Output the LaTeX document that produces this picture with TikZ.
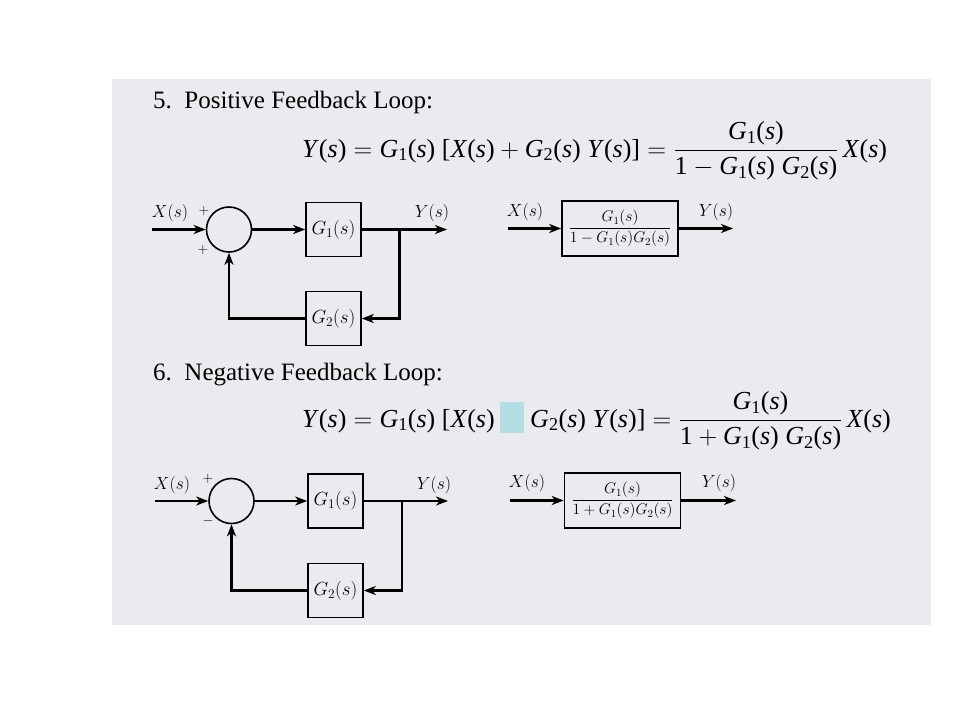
\RequirePackage{fix-cm}
\documentclass[tikz,border=0pt]{standalone}
\usepackage{amsmath}
\usepackage{fontspec}
\newfontfamily\tmfont{Liberation Serif}
\usetikzlibrary{arrows.meta}
\definecolor{pagebg}{RGB}{234,235,238}
\definecolor{maskc}{RGB}{178,221,226}
\newcommand\Fs[1]{\textit{#1}(\textit{s})}
\newcommand\Gs[1]{\textit{G}\textsubscript{#1}(\textit{s})}
\begin{document}
\begin{tikzpicture}[x=1pt,y=-1pt,
  blk/.style={draw, line width=1.6pt, minimum width=55pt, minimum height=54pt, inner sep=0pt, font=\fontsize{19}{21}\selectfont},
  tfblk/.style={blk, minimum width=116pt, minimum height=55pt, font=\fontsize{15.5}{17}\selectfont},
  sumc/.style={draw, circle, line width=1.6pt, minimum size=45pt, inner sep=0pt},
  lab/.style={font=\fontsize{17.5}{20}\selectfont, inner sep=0pt},
  sig/.style={line width=2.1pt, -{Stealth[length=12pt,width=9pt,inset=3.5pt]}},
  sgn/.style={font=\fontsize{14}{16}\selectfont, inner sep=0pt},
  ttl/.style={font=\tmfont\fontsize{25}{28}\selectfont, anchor=base west, inner sep=0pt},
  eqn/.style={font=\tmfont\fontsize{26}{30}\selectfont, anchor=base west, inner sep=0pt}
]
\fill[white] (0,0) rectangle (960,720);
\fill[pagebg] (112,79) rectangle (931,625);
\useasboundingbox (0,0) rectangle (960,720);

% ---------- 5. Positive feedback ----------
\node[ttl] (t5) at (153,108) {5.\ \ Positive Feedback Loop:};
\node[eqn] (e5) at (302,157) {$\text{\Fs{Y}} = \text{\Gs{1} [\Fs{X}} + \text{\Gs{2} \Fs{Y}]} = \dfrac{\text{\Gs{1}}}{\text{1} - \text{\Gs{1} \Gs{2}}}\,\text{\Fs{X}}$};

\node[sumc] (s1) at (229,229.5) {};
\node[blk] (g1) at (333.5,229.5) {$G_1(s)$};
\node[blk] (g2) at (333.5,318.5) {$G_2(s)$};
\coordinate (in1) at (152,229.5);
\coordinate (b1) at (399.5,229.5);
\coordinate (o1) at (447,229.5);
\node[lab] (x1) at (170,213) {$X(s)$};
\node[lab] (y1) at (432,213) {$Y(s)$};
\node[sgn] (p1) at (204,211) {$+$};
\node[sgn] (p2) at (203,250) {$+$};
\draw[sig] (in1) -- (s1.west);
\draw[sig] (s1.east) -- (g1.west);
\draw[sig] (g1.east) -- (o1);
\draw[sig] (b1) |- (g2.east);
\draw[sig] (g2.west) -| (s1.south);

\node[tfblk] (h1) at (620,228.5) {$\dfrac{G_1(s)}{1-G_1(s)G_2(s)}$};
\coordinate (in3) at (508,228.5);
\coordinate (o3) at (733,228.5);
\node[lab] (x3) at (525,212) {$X(s)$};
\node[lab] (y3) at (716,212) {$Y(s)$};
\draw[sig] (in3) -- (h1.west);
\draw[sig] (h1.east) -- (o3);

% ---------- 6. Negative feedback ----------
\node[ttl] (t6) at (153,380) {6.\ \ Negative Feedback Loop:};
\node[eqn] (e6) at (302,427) {$\text{\Fs{Y}} = \text{\Gs{1} [\Fs{X}}\mathbin{\textcolor{maskc}{\rule[-6pt]{24pt}{31pt}}}\text{\Gs{2} \Fs{Y}]} = \dfrac{\text{\Gs{1}}}{\text{1} + \text{\Gs{1} \Gs{2}}}\,\text{\Fs{X}}$};

\node[sumc] (s2) at (231.5,501) {};
\node[blk] (g3) at (335.5,501) {$G_1(s)$};
\node[blk] (g4) at (335.5,590.5) {$G_2(s)$};
\coordinate (in2) at (155,501);
\coordinate (b2) at (402,501);
\coordinate (o2) at (448,501);
\node[lab] (x2) at (172,485) {$X(s)$};
\node[lab] (y2) at (434,485) {$Y(s)$};
\node[sgn] (p3) at (208,479) {$+$};
\node[sgn] (m1) at (208,521) {$-$};
\draw[sig] (in2) -- (s2.west);
\draw[sig] (s2.east) -- (g3.west);
\draw[sig] (g3.east) -- (o2);
\draw[sig] (b2) |- (g4.east);
\draw[sig] (g4.west) -| (s2.south);

\node[tfblk] (h2) at (622.5,500.5) {$\dfrac{G_1(s)}{1+G_1(s)G_2(s)}$};
\coordinate (in4) at (510,500.5);
\coordinate (o4) at (736,500.5);
\node[lab] (x4) at (527,483) {$X(s)$};
\node[lab] (y4) at (719,483) {$Y(s)$};
\draw[sig] (in4) -- (h2.west);
\draw[sig] (h2.east) -- (o4);
\end{tikzpicture}
\end{document}
